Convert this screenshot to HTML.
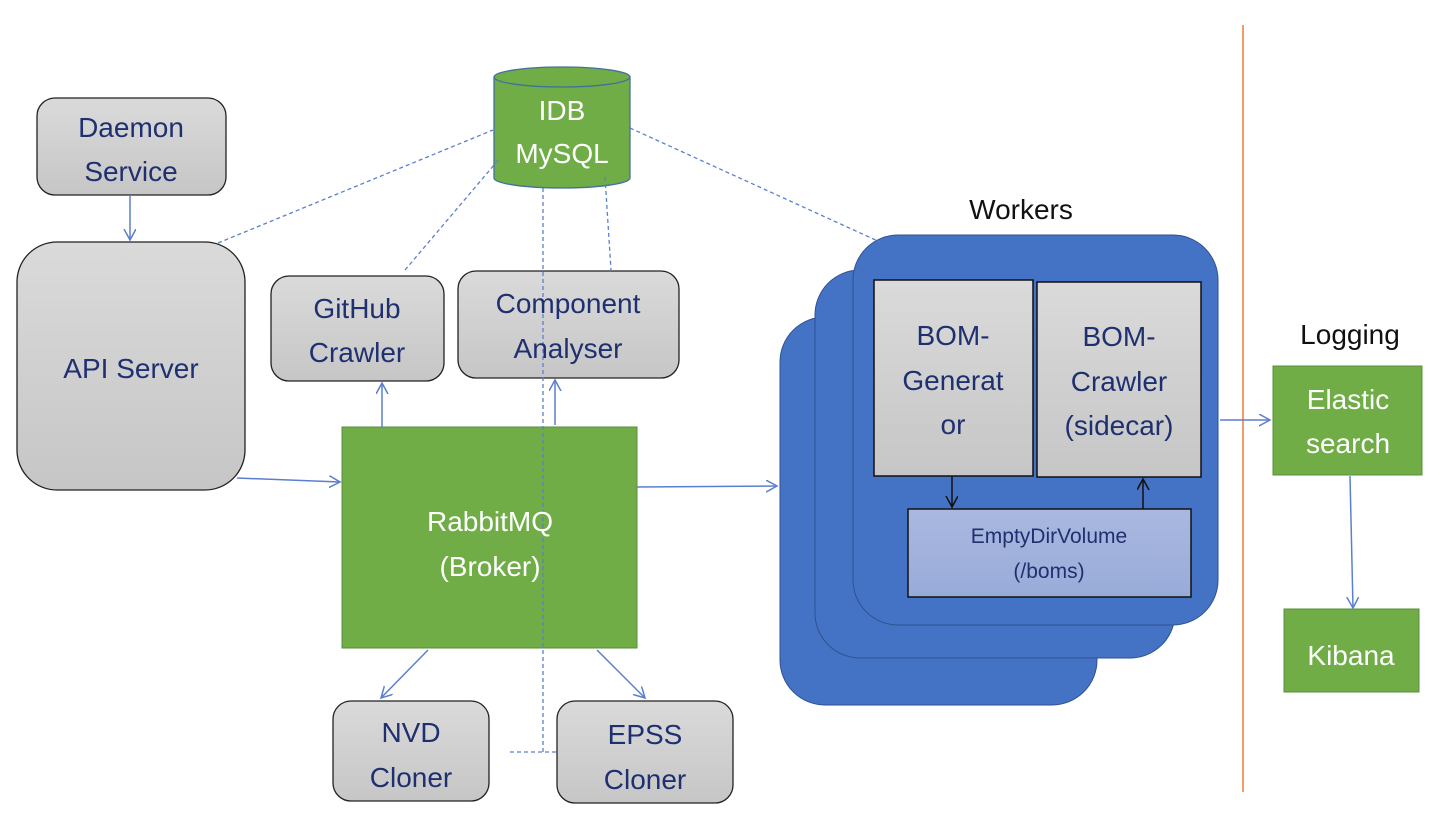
<!DOCTYPE html>
<html><head><meta charset="utf-8"><style>
html,body{margin:0;padding:0;background:#fff;}
svg text{font-family:"Liberation Sans",sans-serif;}
</style></head><body>
<svg width="1446" height="825" viewBox="0 0 1446 825" xmlns="http://www.w3.org/2000/svg">
<defs>
<marker id="ab" markerWidth="14" markerHeight="14" refX="11" refY="6" orient="auto" markerUnits="userSpaceOnUse"><path d="M0,0 L11,6 L0,12" fill="none" stroke="#5b7fd0" stroke-width="1.5"/></marker>
<marker id="ak" markerWidth="14" markerHeight="14" refX="11" refY="6" orient="auto" markerUnits="userSpaceOnUse"><path d="M0,0 L11,6 L0,12" fill="none" stroke="#111" stroke-width="1.5"/></marker>
<linearGradient id="g" x1="0" y1="0" x2="0" y2="1"><stop offset="0" stop-color="#dadada"/><stop offset="1" stop-color="#c6c6c6"/></linearGradient>
<linearGradient id="v" x1="0" y1="0" x2="0" y2="1"><stop offset="0" stop-color="#aab8e0"/><stop offset="1" stop-color="#98abd8"/></linearGradient>
</defs>
<line x1="1243" y1="25" x2="1243" y2="792" stroke="#ed7d31" stroke-width="1.5"/>
<!-- workers -->
<rect x="780" y="317" width="317" height="388" rx="45" fill="#4472c4" stroke="#2f528f"/>
<rect x="815" y="270" width="360" height="388" rx="45" fill="#4472c4" stroke="#2f528f"/>
<rect x="853" y="235" width="365" height="390" rx="45" fill="#4472c4" stroke="#2f528f"/>
<rect x="874" y="280" width="159" height="196" fill="url(#g)" stroke="#111" stroke-width="1.5"/>
<rect x="1037" y="282" width="164" height="195" fill="url(#g)" stroke="#111" stroke-width="1.5"/>
<rect x="908" y="509" width="283" height="88" fill="url(#v)" stroke="#111" stroke-width="1.5"/>
<line x1="952" y1="476" x2="952" y2="507" stroke="#111" stroke-width="1.5" marker-end="url(#ak)"/>
<line x1="1143" y1="509" x2="1143" y2="479" stroke="#111" stroke-width="1.5" marker-end="url(#ak)"/>
<!-- boxes -->
<rect x="37" y="98" width="189" height="97" rx="18" fill="url(#g)" stroke="#222" stroke-width="1.3"/>
<rect x="17" y="242" width="228" height="248" rx="40" fill="url(#g)" stroke="#222" stroke-width="1.3"/>
<rect x="271" y="276" width="173" height="105" rx="18" fill="url(#g)" stroke="#222" stroke-width="1.3"/>
<rect x="458" y="271" width="221" height="107" rx="18" fill="url(#g)" stroke="#222" stroke-width="1.3"/>
<rect x="333" y="701" width="156" height="100" rx="18" fill="url(#g)" stroke="#222" stroke-width="1.3"/>
<rect x="557" y="701" width="176" height="102" rx="18" fill="url(#g)" stroke="#222" stroke-width="1.3"/>
<rect x="342" y="427" width="295" height="221" fill="#70ad47" stroke="#5a8f38"/>
<rect x="1273" y="366" width="149" height="109" fill="#70ad47" stroke="#5a8f38"/>
<rect x="1284" y="609" width="135" height="83" fill="#70ad47" stroke="#5a8f38"/>
<!-- cylinder -->
<path d="M494,77 L494,178 A68,10 0 0 0 630,178 L630,77" fill="#70ad47" stroke="#41719c" stroke-width="1.3"/>
<ellipse cx="562" cy="77" rx="68" ry="10" fill="#70ad47" stroke="#41719c" stroke-width="1.3"/>
<g fill="none" stroke="#5b7fd0" stroke-width="1.3" stroke-dasharray="4,3">
<line x1="218" y1="243" x2="493" y2="130"/>
<line x1="405" y1="270" x2="500" y2="158"/>
<line x1="605" y1="177" x2="611" y2="270"/>
<line x1="630" y1="128" x2="880" y2="242"/>
<line x1="543" y1="188" x2="543" y2="752"/>
<line x1="510" y1="752" x2="557" y2="752"/>
</g>
<!-- arrows -->
<g stroke="#5b7fd0" stroke-width="1.5" marker-end="url(#ab)">
<line x1="130" y1="195" x2="130" y2="240"/>
<line x1="237" y1="478" x2="340" y2="482"/>
<line x1="382" y1="427" x2="382" y2="383"/>
<line x1="555" y1="425" x2="555" y2="380"/>
<line x1="637" y1="487" x2="777" y2="486"/>
<line x1="428" y1="650" x2="381" y2="698"/>
<line x1="597" y1="650" x2="645" y2="698"/>
<line x1="1220" y1="420" x2="1270" y2="420"/>
<line x1="1350" y1="476" x2="1353" y2="608"/>
</g>
<g fill="#1f3070" font-size="28" text-anchor="middle">
<text x="131" y="137">Daemon</text><text x="131" y="181">Service</text>
<text x="131" y="378">API Server</text>
<text x="357" y="318">GitHub</text><text x="357" y="362">Crawler</text>
<text x="568" y="313">Component</text><text x="568" y="358">Analyser</text>
<text x="411" y="742">NVD</text><text x="411" y="787">Cloner</text>
<text x="645" y="744">EPSS</text><text x="645" y="789">Cloner</text>
<text x="953" y="345">BOM-</text><text x="953" y="390">Generat</text><text x="953" y="434">or</text>
<text x="1119" y="346">BOM-</text><text x="1119" y="391">Crawler</text><text x="1119" y="435">(sidecar)</text>
<text x="1049" y="543" font-size="21">EmptyDirVolume</text><text x="1049" y="578" font-size="21">(/boms)</text>
</g>
<g fill="#fff" font-size="28" text-anchor="middle">
<text x="562" y="120">IDB</text><text x="562" y="163">MySQL</text>
<text x="490" y="531">RabbitMQ</text><text x="490" y="576">(Broker)</text>
<text x="1348" y="409">Elastic</text><text x="1348" y="453">search</text>
<text x="1351" y="665">Kibana</text>
</g>
<g fill="#111" font-size="28" text-anchor="middle">
<text x="1021" y="219">Workers</text>
<text x="1350" y="344">Logging</text>
</g>
</svg>
</body></html>
